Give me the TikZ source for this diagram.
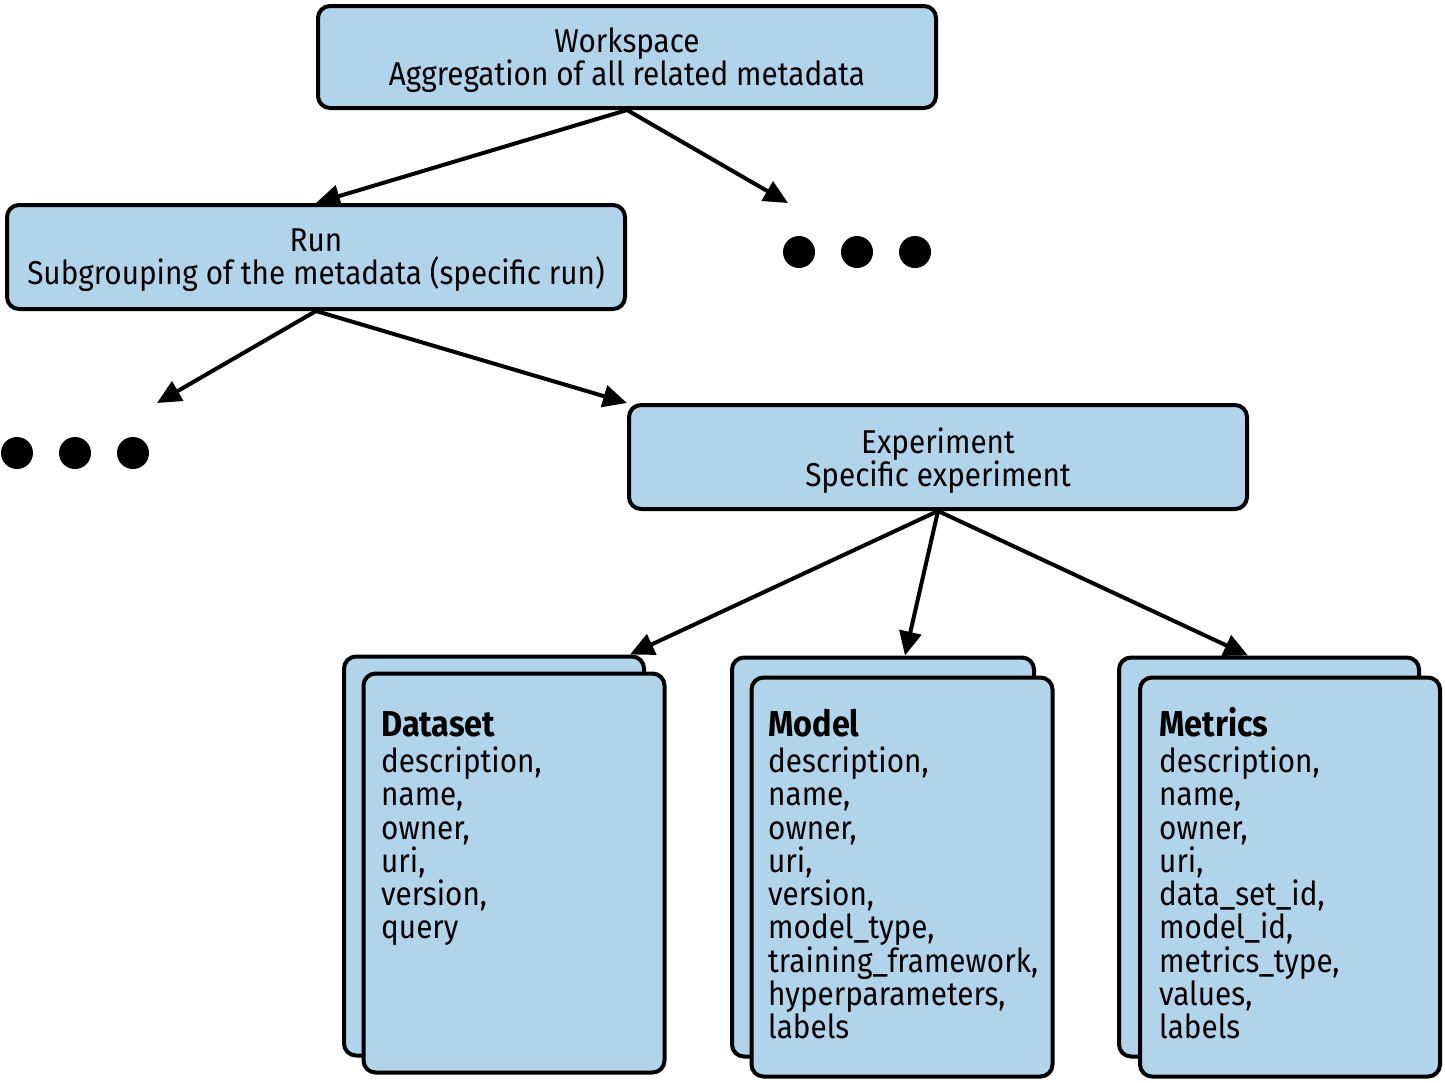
\documentclass[tikz,border=0pt]{standalone}
\usepackage{fontspec}
\setmainfont{Fira Sans}[FakeStretch=0.9]
\usetikzlibrary{positioning,calc,arrows.meta}
\definecolor{meta_blue}{HTML}{B1D4EA}
\tikzstyle{line} = [draw, line width=4pt, -{Triangle[length=24pt, width=22pt]}]
\tikzstyle{default}    = [rectangle, draw, line width=4pt, rounded corners=12pt, fill=meta_blue, text=black, inner sep=0pt]
\tikzstyle{group}    = [default, align=center, text depth=0pt, minimum width=618pt, minimum height=104pt, font=\fontsize{33}{33}\selectfont]
\tikzstyle{card}    = [default, minimum width=301pt, minimum height=399pt]
\tikzstyle{card_text}    = [anchor=north west, align=left, inner sep=0pt, font=\fontsize{33}{33.25}\selectfont]
\tikzstyle{dot}    = [circle, fill=black, minimum size=32pt, inner sep=0pt]
\newcommand{\cardtitle}[1]{{\fontsize{36}{36}\selectfont\bfseries\vphantom{Mli}#1}\\[3pt]}

\begin{document}
\begin{tikzpicture}[x=1pt, y=-1pt]
   \useasboundingbox (0,0) rectangle (1445,1082);

   % Hierarchy
   \node at (627, 57) [group, minimum height=102pt] (workspace) {Workspace\\Aggregation of all related metadata};
   \node at (316, 257) [group] (run) {Run\\Subgrouping of the metadata (specific run)};
   \node at (938, 457) [group] (experiment) {Experiment\\Specific experiment};

   % Omitted siblings
   \node at (799, 252) [dot] (ws dot a) {};
   \node at (857, 252) [dot] (ws dot b) {};
   \node at (915, 252) [dot] (ws dot c) {};
   \node at (17, 453) [dot] (run dot a) {};
   \node at (75, 453) [dot] (run dot b) {};
   \node at (133, 453) [dot] (run dot c) {};
   \coordinate (ws more) at (788, 203);
   \coordinate (run more) at (157, 403);

   \path [line] (workspace.south) -- (run.north);
   \path [line] (workspace.south) -- (ws more);
   \path [line] (run.south) -- (run more);
   \path [line] (run.south) -- (experiment.north west);

   % Entities
   \node at (494, 856) [card, minimum width=300pt] (dataset back) {};
   \node at (514, 873) [card] (dataset) {};
   \node at (883, 857) [card, minimum width=302pt] (model back) {};
   \node at (902, 877) [card] (model) {};
   \node at (1269, 857) [card, minimum width=300pt] (metrics back) {};
   \node at (1290, 877) [card, minimum width=300pt] (metrics) {};

   \node at (381, 707) [card_text] (dataset text) {\cardtitle{Dataset}description,\\name,\\owner,\\uri,\\version,\\query};
   \node at (768, 707) [card_text] (model text) {\cardtitle{Model}description,\\name,\\owner,\\uri,\\version,\\model\_type,\\training\_framework,\\hyperparameters,\\labels};
   \node at (1159, 707) [card_text] (metrics text) {\cardtitle{Metrics}description,\\name,\\owner,\\uri,\\data\_set\_id,\\model\_id,\\metrics\_type,\\values,\\labels};

   \path [line] (experiment.south) -- ([xshift=-16pt]dataset back.north east);
   \path [line] (experiment.south) -- ([xshift=22pt]model back.north);
   \path [line] (experiment.south) -- ([xshift=-21pt]metrics back.north);
\end{tikzpicture}
\end{document}
